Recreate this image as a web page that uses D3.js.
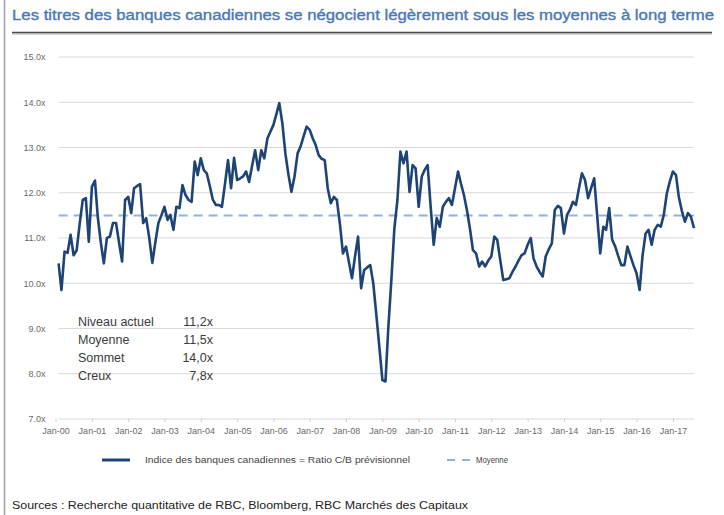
<!DOCTYPE html>
<html>
<head>
  <meta charset="utf-8">
  <title>Banques canadiennes - ratio C/B</title>
  <script src="https://cdn.jsdelivr.net/npm/d3@7/dist/d3.min.js"></script>
  <style>
    body { margin: 0; background: #fff; }
    svg { display: block; font-family: "Liberation Sans", Arial, sans-serif; }
    .grid line { stroke: #d9d9d9; stroke-width: 1; }
    .axis text { fill: #6a6a6a; font-size: 9px; }
  </style>
</head>
<body>
<svg id="chart" width="724" height="515"></svg>
<script>
// monthly P/E of the Canadian bank index, Feb 2000 .. Aug 2017
var startMonth = new Date(2000, 1, 1);
var peValues = [
  10.44, 9.85, 10.70, 10.67, 11.07, 10.62, 10.73, 11.33, 11.84, 11.88,
  10.92, 12.13, 12.27, 11.47, 10.90, 10.44, 11.00, 11.03, 11.33, 11.33,
  10.90, 10.48, 11.84, 11.91, 11.55, 12.10, 12.15, 12.19, 11.33, 11.44,
  11.00, 10.45, 10.90, 11.33, 11.50, 11.69, 11.40, 11.51, 11.18, 11.69,
  11.66, 12.17, 11.95, 11.84, 11.80, 12.69, 12.39, 12.76, 12.50, 12.43,
  12.15, 11.85, 11.73, 11.73, 11.69, 12.20, 12.72, 12.10, 12.77, 12.28,
  12.32, 12.36, 12.47, 12.24, 12.60, 12.94, 12.50, 12.94, 12.76, 13.20,
  13.35, 13.50, 13.75, 13.98, 13.53, 12.87, 12.40, 12.02, 12.36, 12.87,
  13.02, 13.25, 13.46, 13.39, 13.20, 13.06, 12.83, 12.75, 12.72, 12.10,
  11.77, 11.91, 11.84, 11.30, 10.66, 10.81, 10.45, 10.11, 10.60, 11.03,
  9.89, 10.29, 10.35, 10.40, 10.00, 9.30, 8.60, 7.86, 7.83, 9.00,
  10.07, 11.20, 11.84, 12.91, 12.65, 12.91, 12.02, 12.61, 12.54, 11.69,
  12.36, 12.50, 12.61, 11.70, 10.85, 11.44, 11.25, 11.69, 11.80, 11.88,
  11.73, 12.10, 12.47, 12.21, 11.95, 11.62, 11.20, 10.73, 10.66, 10.37,
  10.48, 10.37, 10.50, 10.59, 11.03, 10.96, 10.50, 10.07, 10.09, 10.11,
  10.25, 10.37, 10.50, 10.62, 10.66, 10.85, 11.00, 10.55, 10.37, 10.25,
  10.15, 10.59, 10.75, 10.88, 11.62, 11.71, 11.66, 11.10, 11.51, 11.62,
  11.80, 11.73, 12.10, 12.43, 12.28, 11.88, 12.10, 12.32, 11.50, 10.66,
  11.25, 11.18, 11.66, 10.96, 10.81, 10.60, 10.40, 10.40, 10.81, 10.60,
  10.40, 10.22, 9.85, 10.60, 11.10, 11.18, 10.85, 11.18, 11.29, 11.25,
  11.51, 11.99, 12.25, 12.47, 12.39, 11.91, 11.60, 11.36, 11.55, 11.47, 11.22
];
var meanValue = 11.5;
var yTicks = [7, 8, 9, 10, 11, 12, 13, 14, 15];
var statLabels = ["Niveau actuel", "Moyenne", "Sommet", "Creux"];
var statValues = ["11,2x", "11,5x", "14,0x", "7,8x"];
var titleText = "Les titres des banques canadiennes se négocient légèrement sous les moyennes à long terme";
var legendLabels = ["Indice des banques canadiennes = Ratio C/B prévisionnel", "Moyenne"];
var sourceText = "Sources : Recherche quantitative de RBC, Bloomberg, RBC Marchés des Capitaux";

var series = peValues.map(function(v, i) {
  return { date: d3.timeMonth.offset(startMonth, i), value: v };
});

var svg = d3.select('#chart');

var x = d3.scaleTime()
  .domain([new Date(2000, 0, 1), new Date(2017, 7, 1)])
  .range([55.5, 694]);
var y = d3.scaleLinear()
  .domain([7, 15])
  .range([419, 57]);

// frame + title
svg.append('line')
  .attr('x1', 4.5).attr('x2', 4.5).attr('y1', 0).attr('y2', 515)
  .attr('stroke', '#a0a0a0').attr('stroke-width', 1.5);

svg.append('text')
  .attr('x', 12).attr('y', 20)
  .attr('font-family', '"Liberation Sans Narrow", "Liberation Sans", Arial, sans-serif')
  .attr('font-size', 14)
  .attr('fill', '#4a78b5')
  .attr('stroke', '#4a78b5')
  .attr('stroke-width', 0.35)
  .attr('textLength', 702)
  .attr('lengthAdjust', 'spacingAndGlyphs')
  .text(titleText);

svg.append('line')
  .attr('x1', 12).attr('x2', 712).attr('y1', 34).attr('y2', 34)
  .attr('stroke', '#c8c8c8').attr('stroke-width', 1.5);
svg.append('line')
  .attr('x1', 12).attr('x2', 712).attr('y1', 32.5).attr('y2', 32.5)
  .attr('stroke', '#4a4a4a').attr('stroke-width', 1.5);

// gridlines
var x0 = x(startMonth), x1 = x.range()[1];
svg.append('g').attr('class', 'grid')
  .selectAll('line')
  .data(yTicks)
  .enter().append('line')
  .attr('x1', x0).attr('x2', x1)
  .attr('y1', function(d) { return y(d); })
  .attr('y2', function(d) { return y(d); });

// y axis labels
svg.append('g').attr('class', 'axis')
  .attr('transform', 'translate(' + (x0 - 10) + ',0)')
  .call(d3.axisLeft(y).tickValues(yTicks).tickSize(0)
    .tickFormat(function(d) { return d.toFixed(1) + 'x'; }))
  .call(function(g) { g.select('.domain').remove(); });

// x axis
var xAxis = svg.append('g').attr('class', 'axis')
  .attr('transform', 'translate(0,' + y(7) + ')')
  .call(d3.axisBottom(x).ticks(d3.timeYear.every(1)).tickSize(3).tickPadding(6)
    .tickFormat(d3.timeFormat('%b-%y')));
xAxis.select('.domain').remove();
xAxis.selectAll('.tick line').attr('stroke', '#d0d0d0');

// mean line
svg.append('line')
  .attr('x1', x0).attr('x2', x1)
  .attr('y1', y(meanValue)).attr('y2', y(meanValue))
  .attr('stroke', '#8fb3de').attr('stroke-width', 2)
  .attr('stroke-dasharray', '9,6');

// index line
var line = d3.line()
  .x(function(d) { return x(d.date); })
  .y(function(d) { return y(d.value); });
svg.append('path')
  .datum(series)
  .attr('d', line)
  .attr('fill', 'none')
  .attr('stroke', '#1d4474')
  .attr('stroke-width', 2.6)
  .attr('stroke-linejoin', 'round');

// stats block
var stats = svg.append('g')
  .attr('font-size', 12.5)
  .attr('fill', '#3a3a3a');
stats.selectAll('text.lab')
  .data(statLabels)
  .enter().append('text')
  .attr('class', 'lab')
  .attr('x', 78)
  .attr('y', function(d, i) { return 326 + i * 18; })
  .text(function(d) { return d; });
stats.selectAll('text.val')
  .data(statValues)
  .enter().append('text')
  .attr('class', 'val')
  .attr('x', 213)
  .attr('text-anchor', 'end')
  .attr('y', function(d, i) { return 326 + i * 18; })
  .text(function(d) { return d; });

// legend
var leg = svg.append('g').attr('font-size', 8.5).attr('fill', '#444');
leg.append('line')
  .attr('x1', 102).attr('x2', 130).attr('y1', 460).attr('y2', 460)
  .attr('stroke', '#1d4474').attr('stroke-width', 3);
leg.append('text').attr('x', 145).attr('y', 463)
  .attr('textLength', 265).attr('lengthAdjust', 'spacingAndGlyphs')
  .text(legendLabels[0]);
leg.append('line')
  .attr('x1', 447).attr('x2', 470).attr('y1', 460).attr('y2', 460)
  .attr('stroke', '#8fb3de').attr('stroke-width', 2)
  .attr('stroke-dasharray', '8,7');
leg.append('text').attr('x', 476).attr('y', 463)
  .attr('textLength', 32).attr('lengthAdjust', 'spacingAndGlyphs')
  .text(legendLabels[1]);

// sources
svg.append('text')
  .attr('x', 12).attr('y', 509)
  .attr('font-size', 11)
  .attr('fill', '#222')
  .attr('textLength', 456).attr('lengthAdjust', 'spacingAndGlyphs')
  .text(sourceText);
</script>
</body>
</html>
